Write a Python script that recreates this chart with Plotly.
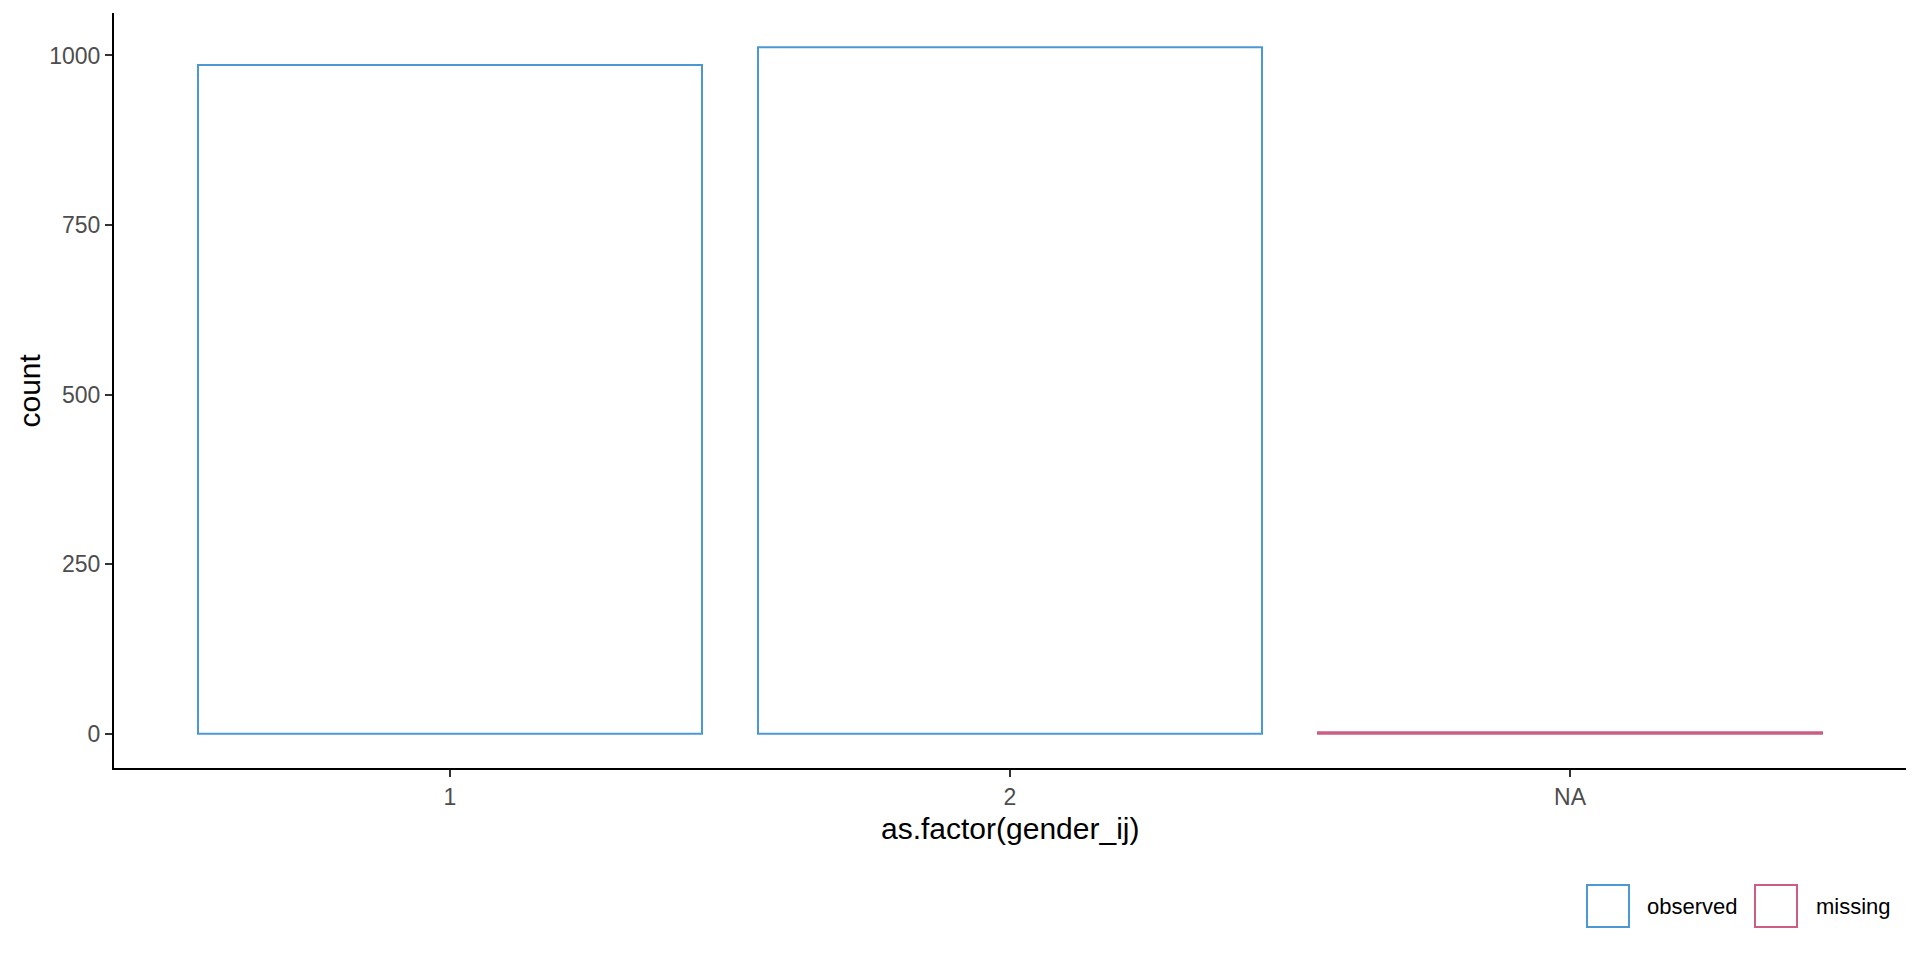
import plotly.graph_objects as go

categories = ["1", "2", "NA"]
counts = [986, 1012, 2]
status = ["observed", "observed", "missing"]
status_colors = {"observed": "rgba(0,108,194,0.7)", "missing": "rgba(182,26,81,0.7)"}
y_ticks = [0, 250, 500, 750, 1000]

FONT = "Arial, 'Liberation Sans', sans-serif"
W, H = 1920, 960
L, R, T, B = 114, 14, 13, 192
pw, ph = W - L - R, H - T - B

def px_x(x):
    return (x - L) / pw

def px_y(y):
    return (H - B - y) / ph

fig = go.Figure()
fig.add_trace(go.Bar(
    x=categories, y=counts, width=0.9,
    marker=dict(color="rgba(255,255,255,0)",
                line=dict(color=[status_colors[s] for s in status], width=2)),
    showlegend=False, hoverinfo="x+y",
))

ymax = max(counts)
fig.update_layout(
    width=W, height=H,
    margin=dict(l=L, r=R, t=T, b=B, autoexpand=False),
    paper_bgcolor="white", plot_bgcolor="white",
    font=dict(family=FONT, color="#4D4D4D", size=23),
    xaxis=dict(
        type="category", range=[-0.6, 2.6],
        showline=True, linecolor="black", linewidth=2,
        ticks="outside", ticklen=7, tickwidth=2, tickcolor="#333333",
        tickfont=dict(size=23, color="#4D4D4D"),
        showgrid=False, zeroline=False, fixedrange=True,
    ),
    yaxis=dict(
        range=[-0.05 * ymax, 1.05 * ymax],
        tickvals=y_ticks, ticktext=[str(v) for v in y_ticks],
        showline=True, linecolor="black", linewidth=2,
        ticks="outside", ticklen=7, tickwidth=2, tickcolor="#333333",
        tickfont=dict(size=23, color="#4D4D4D"),
        showgrid=False, zeroline=False, fixedrange=True,
    ),
)

# axis titles
fig.add_annotation(text="as.factor(gender_ij)", xref="paper", yref="paper",
                   x=0.5, y=px_y(828), xanchor="center", yanchor="middle",
                   showarrow=False, font=dict(size=30, color="black", family=FONT))
fig.add_annotation(text="count", xref="paper", yref="paper",
                   x=px_x(29), y=0.5, xanchor="center", yanchor="middle", textangle=-90,
                   showarrow=False, font=dict(size=30, color="black", family=FONT))

# legend (manual, ggplot-style keys)
legend_items = [("observed", 1587, 1645), ("missing", 1755, 1814)]
for name, kx, tx in legend_items:
    fig.add_shape(type="rect", xref="paper", yref="paper",
                  x0=px_x(kx), x1=px_x(kx + 42), y0=px_y(927), y1=px_y(885),
                  line=dict(color=status_colors[name], width=2), fillcolor="white")
    fig.add_annotation(text=name, xref="paper", yref="paper",
                       x=px_x(tx), y=px_y(906), xanchor="left", yanchor="middle",
                       showarrow=False, font=dict(size=22, color="black", family=FONT))

fig.write_html("out.html")
